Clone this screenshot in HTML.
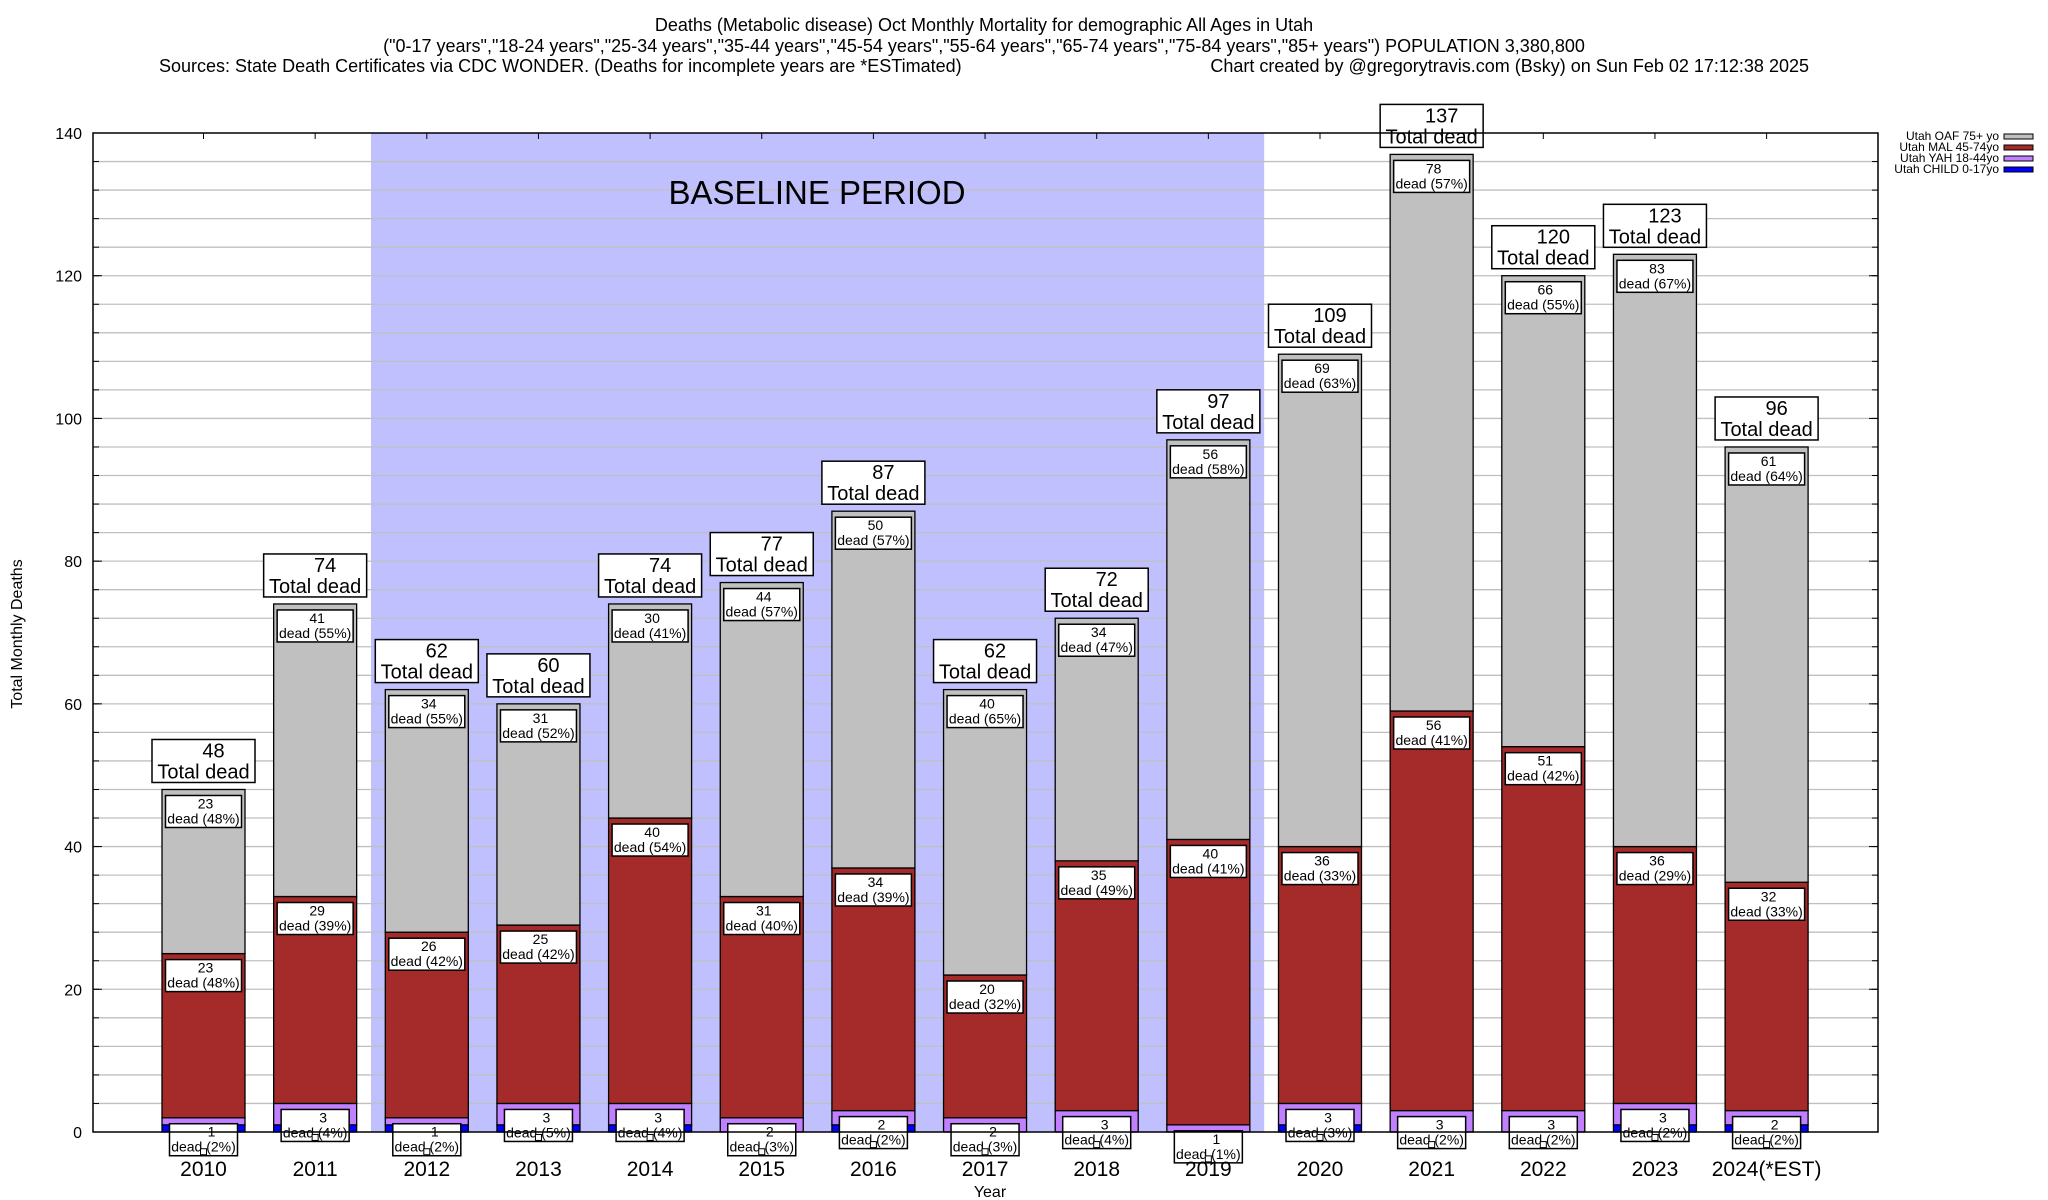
<!DOCTYPE html>
<html><head><meta charset="utf-8"><style>
body{margin:0;background:#fff;}
svg{display:block;font-family:"Liberation Sans",Arial,sans-serif;}
</style></head><body>
<svg id="chart" width="2048" height="1200" viewBox="0 0 2048 1200" xmlns="http://www.w3.org/2000/svg">
<rect width="2048" height="1200" fill="#fff"/>
<g font-size="18" fill="#000">
<text x="984" y="31" text-anchor="middle">Deaths (Metabolic disease) Oct Monthly Mortality for demographic All Ages in Utah</text>
<text x="984" y="52" text-anchor="middle">("0-17 years","18-24 years","25-34 years","35-44 years","45-54 years","55-64 years","65-74 years","75-84 years","85+ years") POPULATION 3,380,800</text>
<text x="159" y="72">Sources: State Death Certificates via CDC WONDER. (Deaths for incomplete years are *ESTimated)</text>
<text x="1809" y="72" text-anchor="end">Chart created by @gregorytravis.com (Bsky) on Sun Feb 02 17:12:38 2025</text>
</g>
<g id="plot"></g>
</svg>
<script>
const years = ["2010","2011","2012","2013","2014","2015","2016","2017","2018","2019","2020","2021","2022","2023","2024(*EST)"];
const child = [1,1,1,1,1,0,1,0,0,0,1,0,0,1,1];
const yah = [1,3,1,3,3,2,2,2,3,1,3,3,3,3,2];
const mal = [23,29,26,25,40,31,34,20,35,40,36,56,51,36,32];
const oaf = [23,41,34,31,30,44,50,40,34,56,69,78,66,83,61];
const totals = [48,74,62,60,74,77,87,62,72,97,109,137,120,123,96];
const oafPct = [48,55,55,52,41,57,57,65,47,58,63,57,55,67,64];
const malPct = [48,39,42,42,54,40,39,32,49,41,33,41,42,29,33];
const yahPct = [2,4,2,5,4,3,2,3,4,1,3,2,2,2,2];
const yTicks = [0,20,40,60,80,100,120,140];
const baselineStart = 1.5, baselineEnd = 9.5;

const NS="http://www.w3.org/2000/svg";
const plot=document.getElementById('plot');
const L=93,R=1878,T=133,B=1132,YMAX=140;
const y=v=>B-(v/YMAX)*(B-T);
const x=i=>203.5+111.65*i;
const BW=83;
function el(tag,attrs,parent){const e=document.createElementNS(NS,tag);for(const k in attrs)e.setAttribute(k,attrs[k]);(parent||plot).appendChild(e);return e;}

const bl=el('rect',{x:x(baselineStart),y:T,width:x(baselineEnd)-x(baselineStart),height:B-T,fill:'#c0c0ff'});



for(let v=4;v<YMAX;v+=4){
  const g=el('line',{x1:L,x2:R,y1:y(v),y2:y(v),stroke:'#c0c0c0','stroke-width':1.3});
  
  
  el('line',{x1:L,x2:L+6,y1:y(v),y2:y(v),stroke:'#000'});
  el('line',{x1:R-6,x2:R,y1:y(v),y2:y(v),stroke:'#000'});
}
const blt=el('text',{x:817,y:204,'font-size':33,'text-anchor':'middle',fill:'#000'});
blt.textContent='BASELINE PERIOD';



yTicks.forEach(v=>{
  el('line',{x1:L,x2:L+9,y1:y(v),y2:y(v),stroke:'#000'});
  el('line',{x1:R-9,x2:R,y1:y(v),y2:y(v),stroke:'#000'});
  const t=el('text',{x:82,y:y(v)+6,'font-size':16,'text-anchor':'end'});
  t.textContent=v;
  
  
});

function labelBox(cx,top,w,h,lines,fs,offs,name,dx){
  const g=el('g',{});
  
  
  el('rect',{x:cx-w/2,y:top,width:w,height:h,fill:'#fff',stroke:'#000','stroke-width':1.5},g);
  lines.forEach((s,k)=>{const t=el('text',{x:cx+(k===0?(dx||0):0),y:top+offs[k],'font-size':fs,'text-anchor':'middle'},g);t.textContent=s;});
  return g;
}

years.forEach((yr,i)=>{
  const cx=x(i);
  el('line',{x1:cx,x2:cx,y1:T,y2:T+6,stroke:'#000'});
  el('line',{x1:cx,x2:cx,y1:B,y2:B-6,stroke:'#000'});
  const segs=[[child[i],'#0000ff','bar-child'],[yah[i],'#c080ff','bar-yah'],[mal[i],'#a52a2a','bar-mal'],[oaf[i],'#c0c0c0','bar-oaf']];
  let base=0;
  const tops=[];
  segs.forEach(([v,c,n])=>{
    if(v>0){
      const r=el('rect',{x:cx-BW/2,y:y(base+v),width:BW,height:y(base)-y(base+v),fill:c,stroke:'#000','stroke-width':1.3});
      
      
    }
    base+=v; tops.push(base);
  });
  labelBox(cx,y(tops[3])+6,76,32,[String(oaf[i]),'dead ('+oafPct[i]+'%)'],14,[13,28],'oaf-label-'+yr,2);
  labelBox(cx,y(tops[2])+6,76,32,[String(mal[i]),'dead ('+malPct[i]+'%)'],14,[13,28],'mal-label-'+yr,2);
  labelBox(cx,y(tops[1])+6,68,32,[String(yah[i]),'dead ('+yahPct[i]+'%)'],14,[13,28],'yah-label-'+yr,8);
  const sq=el('rect',{x:cx-3,y:y(tops[1])+31,width:6,height:6,fill:'#fff',stroke:'#000'});
  
  
  labelBox(cx,y(totals[i])-50,103,43,[String(totals[i]),'Total dead'],20,[18,39],'total-label-'+yr,10);
  const t=el('text',{x:cx,y:1176,'font-size':21,'text-anchor':'middle'});
  t.textContent=yr;
  
  
});

const ax=el('rect',{x:L,y:T,width:R-L,height:B-T,fill:'none',stroke:'#000','stroke-width':1.5});



const xt=el('text',{x:990,y:1197,'font-size':16,'text-anchor':'middle'});
xt.textContent='Year';


const yt=el('text',{x:0,y:0,'font-size':16,'text-anchor':'middle',transform:'translate(22,634) rotate(-90)'});
yt.textContent='Total Monthly Deaths';



const legendNames=["Utah OAF 75+ yo","Utah MAL 45-74yo","Utah YAH 18-44yo","Utah CHILD 0-17yo"];
const legendColors=['#c0c0c0','#a52a2a','#c080ff','#0000ff'];
legendNames.forEach((n,k)=>{
  const g=el('g',{});
  
  
  const yy=136+k*11;
  const t=el('text',{x:1999,y:yy+4,'font-size':12,'text-anchor':'end'},g);t.textContent=n;
  el('rect',{x:2004,y:yy-2,width:29,height:5,fill:legendColors[k],stroke:'#000','stroke-width':1},g);
});
</script>
</body></html>
